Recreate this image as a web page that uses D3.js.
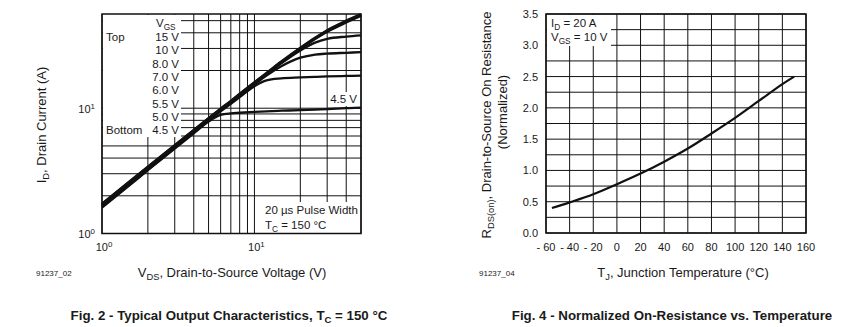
<!DOCTYPE html>
<html>
<head>
<meta charset="utf-8">
<script src="https://cdn.jsdelivr.net/npm/d3@7"></script>
<style>
  body { margin: 0; background: #fff; }
  svg { display: block; }
</style>
</head>
<body>
<div id="chart"></div>
<script>
// Fig. 2 data: drain current (A) vs VDS (V), one array per VGS curve
const vds = [1, 1.5, 2, 3, 4, 5, 6, 7, 8, 10, 12, 15, 20, 25, 30, 40, 50];
const id15 = [1.73, 2.58, 3.42, 5.08, 6.72, 8.34, 9.94, 11.45, 13.05, 16.15, 19.15, 23.6, 30.4, 36.6, 42.0, 50.0, 56.5];
const id10 = [1.72, 2.56, 3.40, 5.05, 6.68, 8.28, 9.88, 11.38, 12.95, 16.0, 19.0, 23.4, 30.2, 36.3, 41.6, 49.5, 55.8];
const id8 = [1.70, 2.54, 3.37, 5.01, 6.62, 8.22, 9.81, 11.3, 12.85, 15.9, 18.9, 23.3, 30.0, 36.0, 41.2, 49.0, 55.2];
const id7 = [1.69, 2.52, 3.34, 4.96, 6.56, 8.15, 9.75, 11.25, 12.8, 15.8, 18.8, 23.1, 29.7, 35.6, 40.7, 48.3, 54.5];
const id6 = [1.67, 2.49, 3.31, 4.92, 6.51, 8.08, 9.66, 11.15, 12.7, 15.7, 18.6, 22.8, 28.9, 33.4, 35.8, 37.3, 38.1];
const id55 = [1.65, 2.46, 3.27, 4.87, 6.44, 8.0, 9.56, 11.05, 12.55, 15.45, 18.2, 21.6, 25.3, 26.8, 27.3, 27.7, 28.0];
const id5 = [1.63, 2.43, 3.24, 4.82, 6.38, 7.93, 9.45, 10.85, 12.25, 15.0, 16.7, 17.3, 17.6, 17.8, 17.95, 18.1, 18.2];
const id45 = [1.61, 2.40, 3.20, 4.77, 6.31, 7.82, 8.85, 9.1, 9.2, 9.35, 9.45, 9.55, 9.65, 9.75, 9.85, 10.0, 10.1];
const vgsLabels = ["15 V", "10 V", "8.0 V", "7.0 V", "6.0 V", "5.5 V", "5.0 V", "4.5 V"];
const vdsGrid = [1, 2, 3, 4, 5, 6, 7, 8, 9, 10, 20, 30, 40, 50];
const idGrid = [1, 2, 3, 4, 5, 6, 7, 8, 9, 10, 20, 30, 40, 50];

// Fig. 4 data: normalized RDS(on) vs junction temperature
const tj = [-55, -40, -20, 0, 20, 40, 60, 80, 100, 120, 140, 150];
const rdsNorm = [0.40, 0.49, 0.62, 0.78, 0.95, 1.14, 1.35, 1.59, 1.84, 2.11, 2.38, 2.50];
const tjTicks = [-60, -40, -20, 0, 20, 40, 60, 80, 100, 120, 140, 160];
const tjTickLabels = ["- 60", "- 40", "- 20", "0", "20", "40", "60", "80", "100", "120", "140", "160"];
const rdsGrid = [0, 0.25, 0.5, 0.75, 1, 1.25, 1.5, 1.75, 2, 2.25, 2.5, 2.75, 3, 3.25, 3.5];
const rdsTickLabels = ["0.0", "0.5", "1.0", "1.5", "2.0", "2.5", "3.0", "3.5"];

const FONT = "'Liberation Sans', Arial, Helvetica, sans-serif";

const svg = d3.select("#chart").append("svg")
    .attr("width", 855).attr("height", 327)
    .attr("font-family", FONT)
    .attr("fill", "#1a1a1a");

// writes text parts; arrays are [text, "sub"|"sup"]
function rich(text, parts, shift) {
    let off = 0;
    parts.forEach(p => {
        const small = Array.isArray(p);
        const t = text.append("tspan").text(small ? p[0] : p);
        const target = small ? (p[1] === "sup" ? -shift : shift) : 0;
        if (target !== off) { t.attr("dy", target - off); off = target; }
        if (small) t.attr("font-size", "72%");
    });
    return text;
}

function label(g, x, y, size, parts, anchor, shift) {
    const t = g.append("text")
        .attr("x", x).attr("y", y)
        .attr("font-size", size)
        .attr("text-anchor", anchor || "start");
    return rich(t, parts, shift || 3);
}

// ---------- Fig. 2 ----------
const left = svg.append("g");
const xL = d3.scaleLog().domain([1, 50]).range([102, 361]);
const yL = d3.scaleLog().domain([1, 56.5]).range([233.5, 14]);

left.selectAll("line.vg").data(vdsGrid).enter().append("line")
    .attr("x1", d => xL(d)).attr("x2", d => xL(d))
    .attr("y1", yL.range()[0]).attr("y2", yL.range()[1])
    .attr("stroke", "#111").attr("stroke-width", 1);
left.selectAll("line.hg").data(idGrid).enter().append("line")
    .attr("y1", d => yL(d)).attr("y2", d => yL(d))
    .attr("x1", xL.range()[0]).attr("x2", xL.range()[1])
    .attr("stroke", "#111").attr("stroke-width", 1);

// white boxes behind the notes
left.append("rect").attr("x", 103).attr("y", 15).attr("width", 78).attr("height", 122).attr("fill", "#fff");
left.append("rect").attr("x", 262).attr("y", 202).attr("width", 98).attr("height", 31).attr("fill", "#fff");
left.append("rect").attr("x", 329).attr("y", 92).attr("width", 31).attr("height", 14).attr("fill", "#fff");

const curves = [id45, id5, id55, id6, id7, id8, id10, id15];
const lineL = d3.line()
    .x(d => xL(d[0])).y(d => yL(d[1]))
    .curve(d3.curveMonotoneX);
left.selectAll("path.c").data(curves).enter().append("path")
    .attr("d", ids => lineL(vds.map((v, i) => [v, ids[i]])))
    .attr("fill", "none").attr("stroke", "#111").attr("stroke-width", 2.3);

left.append("rect")
    .attr("x", 102).attr("y", 14).attr("width", 259).attr("height", 219.5)
    .attr("fill", "none").attr("stroke", "#111").attr("stroke-width", 1.5);

// legend
label(left, 156, 27, 11.5, ["V", ["GS", "sub"]], "start", 3);
label(left, 106, 41, 11.5, ["Top"]);
label(left, 106, 134, 11.5, ["Bottom"]);
vgsLabels.forEach((s, i) => label(left, 179, 41 + i * 13.3, 11.5, [s], "end"));
label(left, 357, 103, 11.5, ["4.5 V"], "end");
label(left, 265, 214, 11.5, ["20 \u00b5s Pulse Width"]);
label(left, 265, 229, 11.5, ["T", ["C", "sub"], " = 150 \u00b0C"]);

// ticks
[1, 10].forEach((v, i) => {
    label(left, 95, yL(v) + 4.5, 11, ["10", [String(i), "sup"]], "end", 4);
    label(left, xL(v) + 2, 251, 11, ["10", [String(i), "sup"]], "middle", 4);
});

label(left, 232, 277, 13, ["V", ["DS", "sub"], ", Drain-to-Source Voltage (V)"], "middle", 3);
label(left, 36, 276, 8, ["91237_02"]);
label(left, 229, 320, 13.3, ["Fig. 2 - Typical Output Characteristics, T", ["C", "sub"], " = 150 \u00b0C"], "middle", 3)
    .attr("font-weight", "bold");
left.append("g").attr("transform", "translate(46,125) rotate(-90)")
    .call(g => label(g, 0, 0, 13, ["I", ["D", "sub"], ", Drain Current (A)"], "middle", 3));

// ---------- Fig. 4 ----------
const right = svg.append("g");
const xR = d3.scaleLinear().domain([-60, 160]).range([546, 806]);
const yR = d3.scaleLinear().domain([0, 3.5]).range([233, 14]);

right.selectAll("line.vg").data(tjTicks).enter().append("line")
    .attr("x1", d => xR(d)).attr("x2", d => xR(d))
    .attr("y1", yR.range()[0]).attr("y2", yR.range()[1])
    .attr("stroke", "#111").attr("stroke-width", 1);
right.selectAll("line.hg").data(rdsGrid).enter().append("line")
    .attr("y1", d => yR(d)).attr("y2", d => yR(d))
    .attr("x1", xR.range()[0]).attr("x2", xR.range()[1])
    .attr("stroke", "#111").attr("stroke-width", 1);

right.append("rect").attr("x", 547).attr("y", 15).attr("width", 64).attr("height", 31).attr("fill", "#fff");

const lineR = d3.line()
    .x(d => xR(d[0])).y(d => yR(d[1]))
    .curve(d3.curveCatmullRom);
right.append("path")
    .attr("d", lineR(tj.map((t, i) => [t, rdsNorm[i]])))
    .attr("fill", "none").attr("stroke", "#111").attr("stroke-width", 2.2);

right.append("rect")
    .attr("x", 546).attr("y", 14).attr("width", 260).attr("height", 219)
    .attr("fill", "none").attr("stroke", "#111").attr("stroke-width", 1.5);

label(right, 551, 27, 11.5, ["I", ["D", "sub"], " = 20 A"]);
label(right, 551, 41, 11.5, ["V", ["GS", "sub"], " = 10 V"]);

tjTicks.forEach((t, i) => label(right, xR(t), 251, 11, [tjTickLabels[i]], "middle"));
rdsTickLabels.forEach((s, i) => label(right, 538, yR(i * 0.5) + 4, 11, [s], "end"));

label(right, 683, 277, 13, ["T", ["J", "sub"], ", Junction Temperature (\u00b0C)"], "middle", 3);
label(right, 479, 276, 8, ["91237_04"]);
label(right, 672, 320, 13.3, ["Fig. 4 - Normalized On-Resistance vs. Temperature"], "middle")
    .attr("font-weight", "bold");
right.append("g").attr("transform", "translate(491,125) rotate(-90)")
    .call(g => label(g, 0, 0, 13, ["R", ["DS(on)", "sub"], ", Drain-to-Source On Resistance"], "middle", 3));
right.append("g").attr("transform", "translate(507,112) rotate(-90)")
    .call(g => label(g, 0, 0, 13, ["(Normalized)"], "middle"));
</script>
</body>
</html>
